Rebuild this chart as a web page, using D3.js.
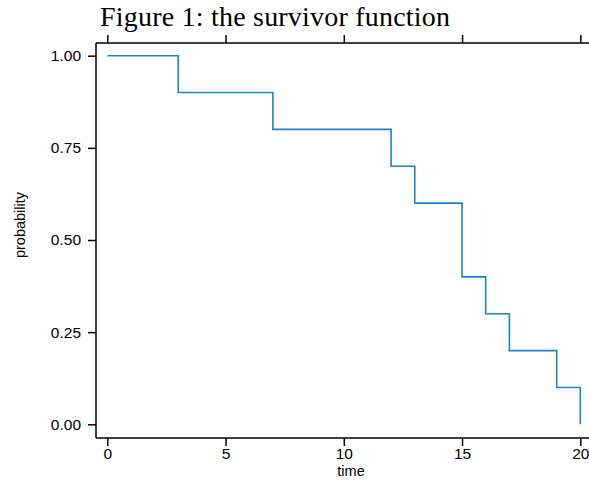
<!DOCTYPE html>
<html>
<head>
<meta charset="utf-8">
<script src="https://cdn.jsdelivr.net/npm/d3@7"></script>
<style>
  html, body { margin: 0; padding: 0; background: #fff; }
  svg { display: block; }
  .tick text { font-family: "Liberation Sans", Arial, sans-serif; }
</style>
</head>
<body>
<script>
// Kaplan-Meier style survivor estimate: step times and surviving proportion
const times = [0, 3, 7, 12, 13, 15, 16, 17, 19, 20];
const survival = [1.0, 0.9, 0.8, 0.7, 0.6, 0.4, 0.3, 0.2, 0.1, 0.0];
const xTicks = [0, 5, 10, 15, 20];
const yTicks = [0, 0.25, 0.5, 0.75, 1.0];

(function () {
const W = 589, H = 480;
const svg = d3.select("body").append("svg").attr("width", W).attr("height", H);

const x = d3.scaleLinear().domain([0, 20]).range([107.3, 580.3]);
const y = d3.scaleLinear().domain([0, 1]).range([424.3, 55.7]);

const frameL = 96, frameR = 589, frameT = 43, frameB = 438;
const axisColor = "#000";

// frame lines
svg.append("line").attr("x1", frameL).attr("x2", frameR).attr("y1", frameT).attr("y2", frameT)
  .attr("stroke", axisColor).attr("stroke-width", 1.5);
svg.append("line").attr("x1", frameL).attr("x2", frameR).attr("y1", frameB).attr("y2", frameB)
  .attr("stroke", axisColor).attr("stroke-width", 1.5);
svg.append("line").attr("x1", frameL).attr("x2", frameL).attr("y1", frameT).attr("y2", frameB)
  .attr("stroke", axisColor).attr("stroke-width", 1.5);

// bottom axis
const gx = svg.append("g").attr("transform", `translate(0,${frameB})`)
  .call(d3.axisBottom(x).tickValues(xTicks).tickFormat(d3.format("d")).tickSize(8).tickPadding(2));
gx.select(".domain").remove();
gx.selectAll(".tick line").attr("stroke-width", 1.5);
gx.selectAll(".tick text").attr("font-size", 15.5).attr("fill", "#000");

// top axis (ticks only)
const gt = svg.append("g").attr("transform", `translate(0,${frameT})`)
  .call(d3.axisTop(x).tickValues(xTicks).tickFormat("").tickSize(8));
gt.select(".domain").remove();
gt.selectAll(".tick line").attr("stroke-width", 1.5);

// left axis
const gy = svg.append("g").attr("transform", `translate(${frameL},0)`)
  .call(d3.axisLeft(y).tickValues(yTicks).tickFormat(d3.format(".2f")).tickSize(8).tickPadding(7));
gy.select(".domain").remove();
gy.selectAll(".tick line").attr("stroke-width", 1.5);
gy.selectAll(".tick text").attr("font-size", 15.5).attr("fill", "#000");

// survivor step curve: holds each level until the next event time, then drops
const path = [[times[0], survival[0]]];
for (let i = 1; i < times.length; i++) {
  path.push([times[i], survival[i - 1]]);
  path.push([times[i], survival[i]]);
}
svg.append("path")
  .datum(path)
  .attr("fill", "none")
  .attr("stroke", "#1a84cc")
  .attr("stroke-width", 1.6)
  .attr("d", d3.line().x(d => x(d[0])).y(d => y(d[1])));

// axis titles
svg.append("text")
  .attr("x", 351).attr("y", 476)
  .attr("text-anchor", "middle")
  .attr("font-family", "Liberation Sans, Arial, sans-serif")
  .attr("font-size", 14.5)
  .text("time");

svg.append("text")
  .attr("transform", "translate(25,225) rotate(-90)")
  .attr("text-anchor", "middle")
  .attr("font-family", "Liberation Sans, Arial, sans-serif")
  .attr("font-size", 14.5)
  .text("probability");

// title
svg.append("text")
  .attr("x", 100).attr("y", 26)
  .attr("font-family", "Liberation Serif, DejaVu Serif, serif")
  .attr("font-size", 28)
  .attr("textLength", 350)
  .attr("lengthAdjust", "spacing")
  .text("Figure 1: the survivor function");
})();
</script>
</body>
</html>
